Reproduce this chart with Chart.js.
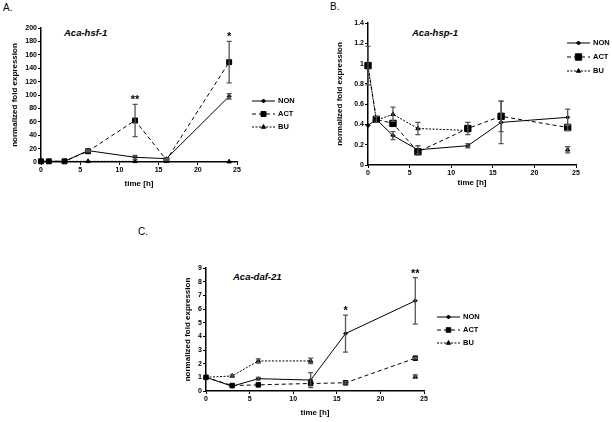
<!DOCTYPE html>
<html>
<head>
<meta charset="utf-8">
<script src="https://cdn.jsdelivr.net/npm/chart.js@4.4.1/dist/chart.umd.min.js"></script>
<style>
  body { margin: 0; background: #fff; }
  #wrap { position: relative; width: 612px; height: 422px; overflow: hidden; font-family: "Liberation Sans", Arial, sans-serif; }
  canvas { position: absolute; }
  .panel { position: absolute; font-size: 10px; color: #000; }
  .gene { position: absolute; font-size: 9.5px; font-weight: bold; font-style: italic; color: #000; }
</style>
</head>
<body>
<div id="wrap">
  <div class="panel" style="left:3px;top:2px">A.</div>
  <div class="panel" style="left:330px;top:1px">B.</div>
  <div class="panel" style="left:138px;top:226px">C.</div>
  <div class="gene" style="left:64px;top:27px">Aca-hsf-1</div>
  <div class="gene" style="left:412px;top:27px">Aca-hsp-1</div>
  <div class="gene" style="left:233px;top:271px">Aca-daf-21</div>
  <canvas id="chartA" width="300" height="210" style="left:0;top:0"></canvas>
  <canvas id="chartB" width="312" height="210" style="left:300px;top:0"></canvas>
  <canvas id="chartC" width="520" height="212" style="left:0;top:210px"></canvas>
</div>
<script>
// time points
const timesAB = [0, 1, 3, 6, 12, 16, 24];
const timesC = [0, 3, 6, 12, 16, 24];

// A. Aca-hsf-1
const hsfNon = [1, 1, 1, 17, 7, 5, 98];
const hsfNonErr = [0, 0, 0, 1, 3, 1, 4];
const hsfAct = [1, 1, 1, 16, 62, 3, 149];
const hsfActErr = [0, 0, 0, 1, 24, 1, 31];
const hsfBu = [1, 1, 1, 1, 1, null, 0.5];
const hsfBuErr = [0, 0, 0, 0, 0, 0, 0];
const hsfStars = ['', '', '', '', '**', '', '*'];

// B. Aca-hsp-1
const hspNon = [0.39, 0.45, 0.29, 0.15, 0.19, 0.42, 0.47];
const hspNonErr = [0, 0, 0.04, 0.04, 0.02, 0.21, 0.08];
const hspAct = [0.98, 0.45, 0.41, 0.13, 0.36, 0.48, 0.37];
const hspActErr = [0.19, 0.03, 0, 0, 0.06, 0.15, 0.03];
const hspBu = [0.97, 0.44, 0.5, 0.36, 0.34, null, 0.15];
const hspBuErr = [0, 0, 0.07, 0.06, 0, 0, 0.03];

// C. Aca-daf-21
const dafNon = [1, 0.35, 0.9, 0.8, 4.2, 6.6];
const dafNonErr = [0, 0, 0.1, 0.55, 1.35, 1.7];
const dafAct = [1, 0.4, 0.45, 0.55, 0.6, 2.4];
const dafActErr = [0, 0, 0, 0, 0.08, 0.05];
const dafBu = [1, 1.1, 2.2, 2.2, null, 1.05];
const dafBuErr = [0, 0.08, 0.15, 0.2, 0, 0.12];
const dafStars = ['', '', '', '', '*', '**'];

const seriesNames = ['NON', 'ACT', 'BU'];
const FONT = '"Liberation Sans", Arial, sans-serif';

function pts(times, vals) {
  return times.map((t, i) => ({ x: t, y: vals[i] }));
}

// error bars, drawn through the scales
const errorBars = {
  id: 'errorBars',
  afterDatasetsDraw(chart) {
    const ctx = chart.ctx;
    const ys = chart.scales.y;
    chart.data.datasets.forEach((ds, di) => {
      const meta = chart.getDatasetMeta(di);
      (ds.errors || []).forEach((e, i) => {
        const v = ds.data[i].y;
        if (!e || v == null) return;
        const px = meta.data[i].x;
        const top = ys.getPixelForValue(v + e);
        const bot = ys.getPixelForValue(v - e);
        ctx.save();
        ctx.strokeStyle = '#555';
        ctx.lineWidth = 1.3;
        ctx.beginPath();
        ctx.moveTo(px, top); ctx.lineTo(px, bot);
        ctx.moveTo(px - 2.5, top); ctx.lineTo(px + 2.5, top);
        ctx.moveTo(px - 2.5, bot); ctx.lineTo(px + 2.5, bot);
        ctx.stroke();
        ctx.restore();
      });
    });
  }
};

// significance stars above the highest error bar
const stars = {
  id: 'stars',
  afterDatasetsDraw(chart, args, opts) {
    if (!opts.labels) return;
    const ctx = chart.ctx;
    const ys = chart.scales.y, xs = chart.scales.x;
    opts.labels.forEach((s, i) => {
      if (!s) return;
      let top = -Infinity;
      chart.data.datasets.forEach(ds => {
        const v = ds.data[i].y;
        if (v != null) top = Math.max(top, v + (ds.errors[i] || 0));
      });
      ctx.save();
      ctx.fillStyle = '#000';
      ctx.font = 'bold 11px ' + FONT;
      ctx.textAlign = 'center';
      ctx.textBaseline = 'alphabetic';
      ctx.fillText(s, xs.getPixelForValue(opts.times[i]), ys.getPixelForValue(top) - 1);
      ctx.restore();
    });
  }
};

// legend at a fixed place
const sideLegend = {
  id: 'sideLegend',
  afterDraw(chart, args, opts) {
    const ctx = chart.ctx;
    chart.data.datasets.forEach((ds, i) => {
      const y = opts.y + i * opts.gap;
      ctx.save();
      ctx.strokeStyle = '#000';
      ctx.lineWidth = 1;
      ctx.setLineDash(ds.borderDash || []);
      ctx.beginPath();
      ctx.moveTo(opts.x, y); ctx.lineTo(opts.x + 23, y);
      ctx.stroke();
      ctx.setLineDash([]);
      Chart.helpers.drawPoint(ctx, { pointStyle: ds.pointStyle, radius: ds.pointRadius, borderWidth: 1 }, opts.x + 11.5, y);
      ctx.fillStyle = '#000';
      ctx.font = 'bold 7.5px ' + FONT;
      ctx.textBaseline = 'middle';
      ctx.fillText(ds.label, opts.x + 26, y);
      ctx.restore();
    });
  }
};

function makeDatasets(times, non, nonErr, act, actErr, bu, buErr, actSize) {
  const base = { borderColor: '#000', backgroundColor: '#000', pointBorderColor: '#000', pointBackgroundColor: '#000', borderWidth: 1, showLine: true, clip: false, pointBorderWidth: 1 };
  return [
    Object.assign({}, base, { label: seriesNames[0], data: pts(times, non), errors: nonErr, pointStyle: 'rectRot', pointRadius: 2 }),
    Object.assign({}, base, { label: seriesNames[1], data: pts(times, act), errors: actErr, pointStyle: 'rect', pointRadius: actSize, borderDash: [4, 3] }),
    Object.assign({}, base, { label: seriesNames[2], data: pts(times, bu), errors: buErr, pointStyle: 'triangle', pointRadius: 2.5, borderDash: [2, 1.5] })
  ];
}

function makeChart(id, cfg) {
  const tickFont = { family: FONT, size: 7, weight: 'bold' };
  const titleFont = { family: FONT, size: 8, weight: 'bold' };
  return new Chart(document.getElementById(id), {
    type: 'scatter',
    data: { datasets: cfg.datasets },
    options: {
      responsive: false,
      animation: false,
      layout: { padding: cfg.padding },
      plugins: {
        legend: { display: false },
        tooltip: { enabled: false },
        stars: { labels: cfg.stars, times: cfg.times },
        sideLegend: cfg.legend
      },
      scales: {
        x: {
          type: 'linear', min: 0, max: 25,
          ticks: { stepSize: 5, font: tickFont, color: '#000', padding: 1 },
          grid: { drawOnChartArea: false, tickLength: 3, color: '#000' },
          border: { color: '#000', width: 1.5 },
          title: { display: true, text: 'time [h]', font: titleFont, color: '#000', padding: 0 },
          afterFit: s => { s.height = cfg.xH; }
        },
        y: {
          min: 0, max: cfg.yMax,
          ticks: { stepSize: cfg.yStep, font: tickFont, color: '#000', padding: 1,
            callback: v => String(Math.round(v * 10) / 10) },
          grid: { drawOnChartArea: false, tickLength: 3, color: '#000' },
          border: { color: '#000', width: 1.5 },
          title: { display: true, text: 'normalized fold expression', font: titleFont, color: '#000', padding: 0 },
          afterFit: s => { s.width = cfg.yW; }
        }
      }
    },
    plugins: [errorBars, stars, sideLegend]
  });
}

makeChart('chartA', {
  datasets: makeDatasets(timesAB, hsfNon, hsfNonErr, hsfAct, hsfActErr, hsfBu, hsfBuErr, 3.5),
  times: timesAB, stars: hsfStars,
  yMax: 200, yStep: 20,
  padding: { left: 10, top: 28, right: 63, bottom: 21.2 }, yW: 31, xH: 26.8,
  legend: { x: 252, y: 101, gap: 13 }
});

makeChart('chartB', {
  datasets: makeDatasets(timesAB, hspNon, hspNonErr, hspAct, hspActErr, hspBu, hspBuErr, 4.5),
  times: timesAB, stars: null,
  yMax: 1.4, yStep: 0.2,
  padding: { left: 35.2, top: 23, right: 36, bottom: 22.2 }, yW: 32.8, xH: 22.8,
  legend: { x: 267, y: 43, gap: 14 }
});

makeChart('chartC', {
  datasets: makeDatasets(timesC, dafNon, dafNonErr, dafAct, dafActErr, dafBu, dafBuErr, 3.2),
  times: timesC, stars: dafStars,
  yMax: 9, yStep: 1,
  padding: { left: 183.2, top: 58, right: 96, bottom: 4.2 }, yW: 22.8, xH: 26.8,
  legend: { x: 437, y: 107, gap: 13 }
});
</script>
</body>
</html>
